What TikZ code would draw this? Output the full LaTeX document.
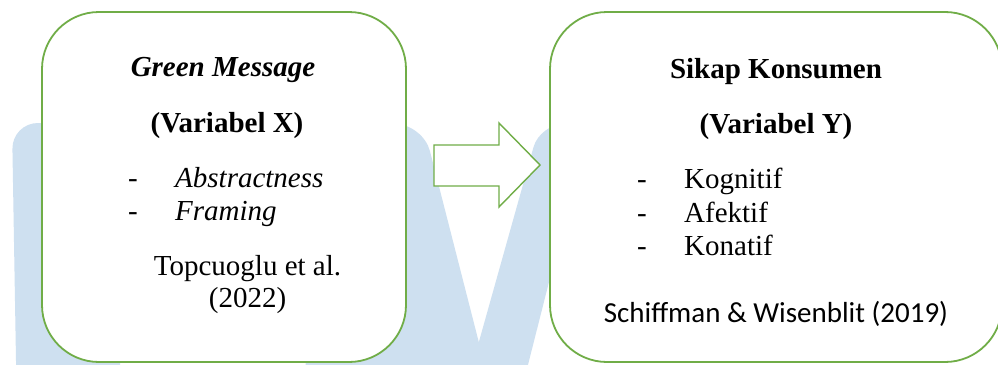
\documentclass[tikz,border=0pt]{standalone}
\usepackage{fontspec}
\setmainfont{Liberation Serif}
\newfontfamily\calibrifont{Carlito}
\definecolor{boxgreen}{RGB}{112,173,71}
\definecolor{wmblue}{RGB}{206,224,240}
\begin{document}
\begin{tikzpicture}[x=1pt,y=-1pt,
  panel/.style={draw=boxgreen, line width=1.8pt, fill=white, rounded corners=57pt},
  txt/.style={inner sep=0pt, font=\fontsize{29}{34}\selectfont},
  ctxt/.style={txt, anchor=base},
  ltxt/.style={txt, anchor=base west},
  wm/.style={fill=wmblue}]
\clip (0,0) rectangle (998,364);
\fill[white] (0,0) rectangle (998,364);
% watermark
\fill[wm, rounded corners=26pt] (17,420) -- (12,123) -- (120,123) -- (120,420) -- cycle;
\fill[wm, rounded corners=28pt] (300,420) -- (330,124) -- (423,124) -- (493.6,400) -- (300,400) -- cycle;
\fill[wm, rounded corners=24pt] (457,420) -- (540,124) -- (589,124) -- (514,420) -- cycle;
% panels
\draw[panel] (42,12) rectangle (406,362);
\draw[panel] (550,12) rectangle (1002,362);
% arrow
\draw[boxgreen, line width=1.4pt, fill=white, line join=miter]
  (434,145) -- (499,145) -- (499,123) -- (540,165) -- (499,207) -- (499,186) -- (434,186) -- cycle;
% left texts
\node[ctxt] (gm) at (223,76) {\textbf{\textit{Green Message}}};
\node[ctxt] (vx) at (227,132) {\textbf{(Variabel X)}};
\node[ltxt] (d1) at (128,187) {-};
\node[ltxt] (abs) at (175,187) {\textit{Abstractness}};
\node[ltxt] (d2) at (128,220) {-};
\node[ltxt] (fr) at (175,220) {\textit{Framing}};
\node[ctxt] (tp) at (247.5,275) {Topcuoglu et al.};
\node[ctxt] (yr) at (247.5,307) {(2022)};
% right texts
\node[ctxt] (sk) at (776,78) {\textbf{Sikap Konsumen}};
\node[ctxt] (vy) at (776,133) {\textbf{(Variabel Y)}};
\node[ltxt] (d3) at (637,188) {-};
\node[ltxt] (kg) at (684,188) {Kognitif};
\node[ltxt] (d4) at (637,222) {-};
\node[ltxt] (af) at (684,222) {Afektif};
\node[ltxt] (d5) at (637,255) {-};
\node[ltxt] (kn) at (684,255) {Konatif};
\node[ctxt, font=\calibrifont\fontsize{29}{34}\selectfont] (sc) at (776,322) {Schiffman \& Wisenblit (2019)};
\end{tikzpicture}
\end{document}
